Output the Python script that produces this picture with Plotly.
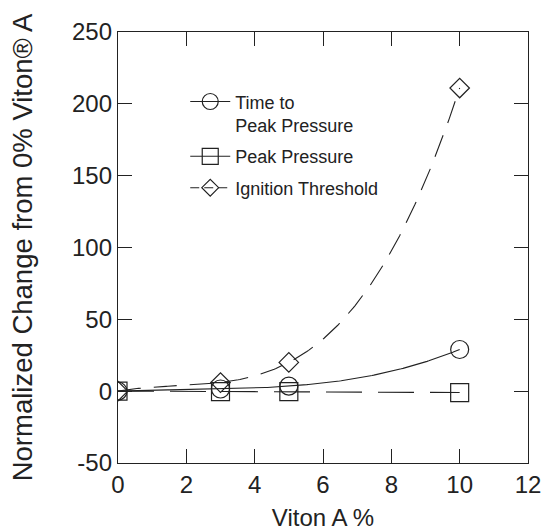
import numpy as np
import plotly.graph_objects as go

# ---- data ----
viton_pct = [0, 3, 5, 10]
time_to_peak = [0, 1.5, 3.5, 29]
peak_pressure = [0, -0.3, -0.3, -1]
ignition_threshold = [0, 6, 20, 211]

series_names = ["Time to<br>Peak Pressure", "Peak Pressure", "Ignition Threshold"]
x_ticks = [0, 2, 4, 6, 8, 10, 12]
y_ticks = [-50, 0, 50, 100, 150, 200, 250]
y_tick_text = ["-50", "0", "50", "100", "150", "200", "250"]

INK = "#222222"
FONT = "Liberation Sans, Arial, Helvetica, sans-serif"

# smooth fit curves (as in the original graph)
xf = np.linspace(0, 10, 200)
fit_time = np.polyval(np.polyfit(viton_pct, time_to_peak, 3), xf)
fit_press = np.polyval(np.polyfit(viton_pct, peak_pressure, 1), xf)
fit_ign = np.polyval(np.polyfit(viton_pct, ignition_threshold, 3), xf)

fig = go.Figure()

# fit lines
fig.add_trace(go.Scatter(x=xf, y=fit_time, mode="lines", showlegend=False,
                         line=dict(color=INK, width=1.1), hoverinfo="skip"))
fig.add_trace(go.Scatter(x=xf, y=fit_press, mode="lines", showlegend=False,
                         line=dict(color=INK, width=1.1, dash="36px,16px"), hoverinfo="skip"))
fig.add_trace(go.Scatter(x=xf, y=fit_ign, mode="lines", showlegend=False,
                         line=dict(color=INK, width=1.1, dash="23px,13px"), hoverinfo="skip"))

# data markers
fig.add_trace(go.Scatter(x=viton_pct, y=peak_pressure, mode="markers", showlegend=False,
                         marker=dict(symbol="square-open", size=18, color=INK, line=dict(width=1.2))))
fig.add_trace(go.Scatter(x=viton_pct, y=time_to_peak, mode="markers", showlegend=False,
                         marker=dict(symbol="circle-open", size=18, color=INK, line=dict(width=1.2))))
fig.add_trace(go.Scatter(x=viton_pct, y=ignition_threshold, mode="markers", showlegend=False,
                         marker=dict(symbol="diamond-open", size=15, color=INK, line=dict(width=1.2))))

# legend entries
fig.add_trace(go.Scatter(x=[None], y=[None], mode="lines+markers", name=series_names[0],
                         legendgroup="a",
                         line=dict(color=INK, width=1.1),
                         marker=dict(symbol="circle-open", size=16, color=INK, line=dict(width=1.2))))
fig.add_trace(go.Scatter(x=[None], y=[None], mode="lines+markers", name=series_names[1],
                         legendgroup="b",
                         line=dict(color=INK, width=1.1),
                         marker=dict(symbol="square-open", size=16, color=INK, line=dict(width=1.2))))
fig.add_trace(go.Scatter(x=[None], y=[None], mode="lines+markers", name=series_names[2],
                         legendgroup="c",
                         line=dict(color=INK, width=1.1, dash="9px,5px"),
                         marker=dict(symbol="diamond-open", size=13, color=INK, line=dict(width=1.2))))

axis_common = dict(
    showline=True, linecolor=INK, linewidth=1.3, mirror="ticks",
    ticks="inside", ticklen=14, tickwidth=1.2, tickcolor=INK,
    showgrid=False, zeroline=False, automargin=False,
    tickfont=dict(family=FONT, size=24, color=INK),
)

fig.update_layout(
    width=543, height=531,
    margin=dict(l=118, r=15, t=32, b=68),
    paper_bgcolor="white", plot_bgcolor="white",
    font=dict(family=FONT, color=INK),
    xaxis=dict(range=[0, 12], tickvals=x_ticks,
               title=dict(text="Viton A %", font=dict(family=FONT, size=24, color=INK), standoff=13),
               **axis_common),
    yaxis=dict(range=[-50, 250], tickvals=y_ticks, ticktext=y_tick_text,
               title=dict(text="Normalized Change from 0% Viton® A",
                          font=dict(family=FONT, size=27.5, color=INK), standoff=31),
               **axis_common),
    legend=dict(x=0.164, y=0.881, xanchor="left", yanchor="top",
                bgcolor="rgba(0,0,0,0)", borderwidth=0,
                font=dict(family=FONT, size=18, color=INK),
                valign="top", tracegroupgap=5, itemwidth=40),
    showlegend=True,
)

fig.write_html("out.html", config={"displayModeBar": False},
               post_script="document.body.style.margin='0px';")
